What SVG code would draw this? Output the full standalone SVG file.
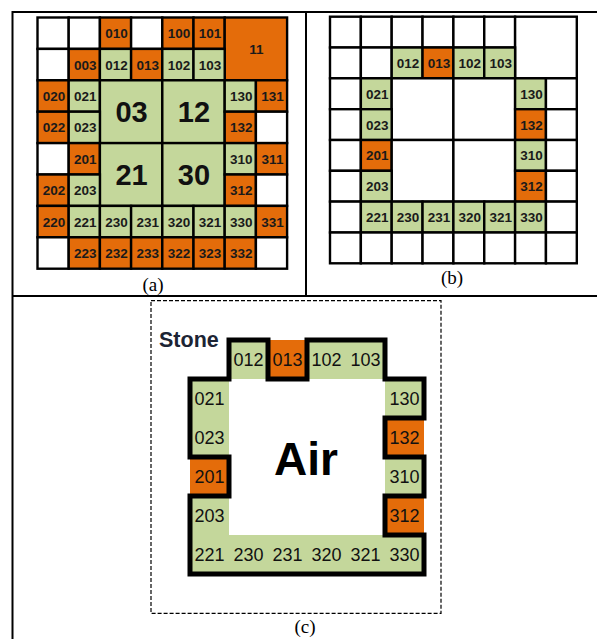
<svg xmlns="http://www.w3.org/2000/svg" width="597" height="639" viewBox="0 0 597 639">
<style>
.w{fill:#fff}.o{fill:#E46C0A}.g{fill:#C4D79B}
.c rect{stroke:#000;stroke-width:2.4}
.t{font-family:"Liberation Sans",Arial,sans-serif;font-weight:bold;font-size:13.5px;fill:#1a1a1a;text-anchor:middle}
.big{font-family:"Liberation Sans",Arial,sans-serif;font-weight:bold;font-size:29px;fill:#111;text-anchor:middle}
.ct{font-family:"Liberation Sans",Arial,sans-serif;font-size:18px;fill:#111;text-anchor:middle}
.lab{font-family:"Liberation Serif","Times New Roman",serif;font-size:19px;fill:#000;text-anchor:middle}
.frame{stroke:#000;stroke-width:2;fill:none}
</style>
<rect width="597" height="639" fill="#fff"/>
<g id="frame" class="frame">
<line x1="12" y1="12" x2="597" y2="12"/>
<line x1="12.5" y1="11" x2="12.5" y2="639"/>
<line x1="12" y1="296" x2="597" y2="296"/>
<line x1="306" y1="12" x2="306" y2="296"/>
</g>
<!-- Panel (a) -->
<g id="panel-a" class="c">
<g id="a-r0">
<rect class="w" x="37.5" y="17.5" width="31.2" height="31.4"/>
<rect class="w" x="68.7" y="17.5" width="31.2" height="31.4"/>
<rect class="o" x="99.9" y="17.5" width="31.2" height="31.4"/><text class="t" x="116.5" y="38.2">010</text>
<rect class="w" x="131.1" y="17.5" width="31.2" height="31.4"/>
<rect class="o" x="162.3" y="17.5" width="31.2" height="31.4"/><text class="t" x="178.9" y="38.2">100</text>
<rect class="o" x="193.5" y="17.5" width="31.2" height="31.4"/><text class="t" x="210.1" y="38.2">101</text>
<rect class="o" x="224.7" y="17.5" width="62.4" height="62.8"/><text class="t" x="256.4" y="54">11</text>
</g>
<g id="a-r1">
<rect class="w" x="37.5" y="48.9" width="31.2" height="31.4"/>
<rect class="o" x="68.7" y="48.9" width="31.2" height="31.4"/><text class="t" x="85.3" y="69.6">003</text>
<rect class="g" x="99.9" y="48.9" width="31.2" height="31.4"/><text class="t" x="116.5" y="69.6">012</text>
<rect class="o" x="131.1" y="48.9" width="31.2" height="31.4"/><text class="t" x="147.7" y="69.6">013</text>
<rect class="g" x="162.3" y="48.9" width="31.2" height="31.4"/><text class="t" x="178.9" y="69.6">102</text>
<rect class="g" x="193.5" y="48.9" width="31.2" height="31.4"/><text class="t" x="210.1" y="69.6">103</text>
</g>
<g id="a-r2">
<rect class="o" x="37.5" y="80.3" width="31.2" height="31.4"/><text class="t" x="54.1" y="101">020</text>
<rect class="g" x="68.7" y="80.3" width="31.2" height="31.4"/><text class="t" x="85.3" y="101">021</text>
<rect class="g" x="99.9" y="80.3" width="62.4" height="62.8"/><text class="big" x="131.6" y="122">03</text>
<rect class="g" x="162.3" y="80.3" width="62.4" height="62.8"/><text class="big" x="194" y="122">12</text>
<rect class="g" x="224.7" y="80.3" width="31.2" height="31.4"/><text class="t" x="241.3" y="101">130</text>
<rect class="o" x="255.9" y="80.3" width="31.2" height="31.4"/><text class="t" x="272.5" y="101">131</text>
</g>
<g id="a-r3">
<rect class="o" x="37.5" y="111.7" width="31.2" height="31.4"/><text class="t" x="54.1" y="132.4">022</text>
<rect class="g" x="68.7" y="111.7" width="31.2" height="31.4"/><text class="t" x="85.3" y="132.4">023</text>
<rect class="o" x="224.7" y="111.7" width="31.2" height="31.4"/><text class="t" x="241.3" y="132.4">132</text>
<rect class="w" x="255.9" y="111.7" width="31.2" height="31.4"/>
</g>
<g id="a-r4">
<rect class="w" x="37.5" y="143.1" width="31.2" height="31.4"/>
<rect class="o" x="68.7" y="143.1" width="31.2" height="31.4"/><text class="t" x="85.3" y="163.8">201</text>
<rect class="g" x="99.9" y="143.1" width="62.4" height="62.8"/><text class="big" x="131.6" y="185">21</text>
<rect class="g" x="162.3" y="143.1" width="62.4" height="62.8"/><text class="big" x="194" y="185">30</text>
<rect class="g" x="224.7" y="143.1" width="31.2" height="31.4"/><text class="t" x="241.3" y="163.8">310</text>
<rect class="o" x="255.9" y="143.1" width="31.2" height="31.4"/><text class="t" x="272.5" y="163.8">311</text>
</g>
<g id="a-r5">
<rect class="o" x="37.5" y="174.5" width="31.2" height="31.4"/><text class="t" x="54.1" y="195.2">202</text>
<rect class="g" x="68.7" y="174.5" width="31.2" height="31.4"/><text class="t" x="85.3" y="195.2">203</text>
<rect class="o" x="224.7" y="174.5" width="31.2" height="31.4"/><text class="t" x="241.3" y="195.2">312</text>
<rect class="w" x="255.9" y="174.5" width="31.2" height="31.4"/>
</g>
<g id="a-r6">
<rect class="o" x="37.5" y="205.9" width="31.2" height="31.4"/><text class="t" x="54.1" y="226.6">220</text>
<rect class="g" x="68.7" y="205.9" width="31.2" height="31.4"/><text class="t" x="85.3" y="226.6">221</text>
<rect class="g" x="99.9" y="205.9" width="31.2" height="31.4"/><text class="t" x="116.5" y="226.6">230</text>
<rect class="g" x="131.1" y="205.9" width="31.2" height="31.4"/><text class="t" x="147.7" y="226.6">231</text>
<rect class="g" x="162.3" y="205.9" width="31.2" height="31.4"/><text class="t" x="178.9" y="226.6">320</text>
<rect class="g" x="193.5" y="205.9" width="31.2" height="31.4"/><text class="t" x="210.1" y="226.6">321</text>
<rect class="g" x="224.7" y="205.9" width="31.2" height="31.4"/><text class="t" x="241.3" y="226.6">330</text>
<rect class="o" x="255.9" y="205.9" width="31.2" height="31.4"/><text class="t" x="272.5" y="226.6">331</text>
</g>
<g id="a-r7">
<rect class="w" x="37.5" y="237.3" width="31.2" height="31.4"/>
<rect class="o" x="68.7" y="237.3" width="31.2" height="31.4"/><text class="t" x="85.3" y="258">223</text>
<rect class="o" x="99.9" y="237.3" width="31.2" height="31.4"/><text class="t" x="116.5" y="258">232</text>
<rect class="o" x="131.1" y="237.3" width="31.2" height="31.4"/><text class="t" x="147.7" y="258">233</text>
<rect class="o" x="162.3" y="237.3" width="31.2" height="31.4"/><text class="t" x="178.9" y="258">322</text>
<rect class="o" x="193.5" y="237.3" width="31.2" height="31.4"/><text class="t" x="210.1" y="258">323</text>
<rect class="o" x="224.7" y="237.3" width="31.2" height="31.4"/><text class="t" x="241.3" y="258">332</text>
<rect class="w" x="255.9" y="237.3" width="31.2" height="31.4"/>
</g>
</g>
<text id="label-a" class="lab" x="153" y="291">(a)</text>
<!-- Panel (b) -->
<g id="panel-b" class="c">
<g id="b-r0">
<rect class="w" x="330" y="16.7" width="30.85" height="30.8"/>
<rect class="w" x="360.85" y="16.7" width="30.85" height="30.8"/>
<rect class="w" x="391.7" y="16.7" width="30.85" height="30.8"/>
<rect class="w" x="422.55" y="16.7" width="30.85" height="30.8"/>
<rect class="w" x="453.4" y="16.7" width="30.85" height="30.8"/>
<rect class="w" x="484.25" y="16.7" width="30.85" height="30.8"/>
<rect class="w" x="515.1" y="16.7" width="61.7" height="61.6"/>
</g>
<g id="b-r1">
<rect class="w" x="330" y="47.5" width="30.85" height="30.8"/>
<rect class="w" x="360.85" y="47.5" width="30.85" height="30.8"/>
<rect class="g" x="391.7" y="47.5" width="30.85" height="30.8"/><text class="t" x="408.1" y="67.9">012</text>
<rect class="o" x="422.55" y="47.5" width="30.85" height="30.8"/><text class="t" x="439" y="67.9">013</text>
<rect class="g" x="453.4" y="47.5" width="30.85" height="30.8"/><text class="t" x="469.8" y="67.9">102</text>
<rect class="g" x="484.25" y="47.5" width="30.85" height="30.8"/><text class="t" x="500.7" y="67.9">103</text>
</g>
<g id="b-r2">
<rect class="w" x="330" y="78.3" width="30.85" height="30.9"/>
<rect class="g" x="360.85" y="78.3" width="30.85" height="30.9"/><text class="t" x="377.3" y="98.8">021</text>
<rect class="w" x="391.7" y="78.3" width="61.7" height="61.7"/>
<rect class="w" x="453.4" y="78.3" width="61.7" height="61.7"/>
<rect class="g" x="515.1" y="78.3" width="30.85" height="30.9"/><text class="t" x="531.5" y="98.8">130</text>
<rect class="w" x="545.95" y="78.3" width="30.85" height="30.9"/>
</g>
<g id="b-r3">
<rect class="w" x="330" y="109.2" width="30.85" height="30.8"/>
<rect class="g" x="360.85" y="109.2" width="30.85" height="30.8"/><text class="t" x="377.3" y="129.6">023</text>
<rect class="o" x="515.1" y="109.2" width="30.85" height="30.8"/><text class="t" x="531.5" y="129.6">132</text>
<rect class="w" x="545.95" y="109.2" width="30.85" height="30.8"/>
</g>
<g id="b-r4">
<rect class="w" x="330" y="140" width="30.85" height="30.8"/>
<rect class="o" x="360.85" y="140" width="30.85" height="30.8"/><text class="t" x="377.3" y="160.4">201</text>
<rect class="w" x="391.7" y="140" width="61.7" height="61.6"/>
<rect class="w" x="453.4" y="140" width="61.7" height="61.6"/>
<rect class="g" x="515.1" y="140" width="30.85" height="30.8"/><text class="t" x="531.5" y="160.4">310</text>
<rect class="w" x="545.95" y="140" width="30.85" height="30.8"/>
</g>
<g id="b-r5">
<rect class="w" x="330" y="170.8" width="30.85" height="30.8"/>
<rect class="g" x="360.85" y="170.8" width="30.85" height="30.8"/><text class="t" x="377.3" y="191.2">203</text>
<rect class="o" x="515.1" y="170.8" width="30.85" height="30.8"/><text class="t" x="531.5" y="191.2">312</text>
<rect class="w" x="545.95" y="170.8" width="30.85" height="30.8"/>
</g>
<g id="b-r6">
<rect class="w" x="330" y="201.6" width="30.85" height="30.9"/>
<rect class="g" x="360.85" y="201.6" width="30.85" height="30.9"/><text class="t" x="377.3" y="222.1">221</text>
<rect class="g" x="391.7" y="201.6" width="30.85" height="30.9"/><text class="t" x="408.1" y="222.1">230</text>
<rect class="g" x="422.55" y="201.6" width="30.85" height="30.9"/><text class="t" x="439" y="222.1">231</text>
<rect class="g" x="453.4" y="201.6" width="30.85" height="30.9"/><text class="t" x="469.8" y="222.1">320</text>
<rect class="g" x="484.25" y="201.6" width="30.85" height="30.9"/><text class="t" x="500.7" y="222.1">321</text>
<rect class="g" x="515.1" y="201.6" width="30.85" height="30.9"/><text class="t" x="531.5" y="222.1">330</text>
<rect class="w" x="545.95" y="201.6" width="30.85" height="30.9"/>
</g>
<g id="b-r7">
<rect class="w" x="330" y="232.5" width="30.85" height="30.8"/>
<rect class="w" x="360.85" y="232.5" width="30.85" height="30.8"/>
<rect class="w" x="391.7" y="232.5" width="30.85" height="30.8"/>
<rect class="w" x="422.55" y="232.5" width="30.85" height="30.8"/>
<rect class="w" x="453.4" y="232.5" width="30.85" height="30.8"/>
<rect class="w" x="484.25" y="232.5" width="30.85" height="30.8"/>
<rect class="w" x="515.1" y="232.5" width="30.85" height="30.8"/>
<rect class="w" x="545.95" y="232.5" width="30.85" height="30.8"/>
</g>
</g>
<text id="label-b" class="lab" x="452" y="284">(b)</text>
<!-- Panel (c) -->
<g id="panel-c">
<rect id="c-border" x="151" y="300.7" width="290" height="312.6" fill="none" stroke="#000" stroke-width="1.2" stroke-dasharray="4 2"/>
<g id="c-cells">
<rect class="g" x="229" y="340" width="39" height="39"/>
<rect class="o" x="268" y="340" width="39" height="39"/>
<rect class="g" x="307" y="340" width="78" height="39"/>
<rect class="g" x="190" y="379" width="39" height="78"/>
<rect class="o" x="190" y="457" width="39" height="39"/>
<rect class="g" x="190" y="496" width="39" height="39"/>
<rect class="g" x="385" y="379" width="39" height="39"/>
<rect class="o" x="385" y="418" width="39" height="39"/>
<rect class="g" x="385" y="457" width="39" height="39"/>
<rect class="o" x="385" y="496" width="39" height="39"/>
<rect class="g" x="190" y="535" width="234" height="39"/>
</g>
<path id="c-outline" d="M229,340 H268 V379 H307 V340 H385 V379 H424 V418 H385 V457 H424 V496 H385 V535 H424 V574 H190 V496 H229 V457 H190 V379 H229 Z" fill="none" stroke="#000" stroke-width="5" stroke-linejoin="miter"/>
<g id="c-labels">
<text class="ct" x="248.5" y="366">012</text>
<text class="ct" x="287.5" y="366">013</text>
<text class="ct" x="326.5" y="366">102</text>
<text class="ct" x="365.5" y="366">103</text>
<text class="ct" x="209.5" y="405">021</text>
<text class="ct" x="209.5" y="444">023</text>
<text class="ct" x="209.5" y="483">201</text>
<text class="ct" x="209.5" y="522">203</text>
<text class="ct" x="404.5" y="405">130</text>
<text class="ct" x="404.5" y="444">132</text>
<text class="ct" x="404.5" y="483">310</text>
<text class="ct" x="404.5" y="522">312</text>
<text class="ct" x="209.5" y="561">221</text>
<text class="ct" x="248.5" y="561">230</text>
<text class="ct" x="287.5" y="561">231</text>
<text class="ct" x="326.5" y="561">320</text>
<text class="ct" x="365.5" y="561">321</text>
<text class="ct" x="404.5" y="561">330</text>
</g>
<text id="stone" x="159" y="346.5" font-family="Liberation Sans, Arial, sans-serif" font-weight="bold" font-size="21.5" fill="#1c2434">Stone</text>
<text id="air" x="306" y="475" font-family="Liberation Sans, Arial, sans-serif" font-weight="bold" font-size="46" fill="#000" text-anchor="middle">Air</text>
</g>
<text id="label-c" class="lab" x="305" y="633">(c)</text>
</svg>
